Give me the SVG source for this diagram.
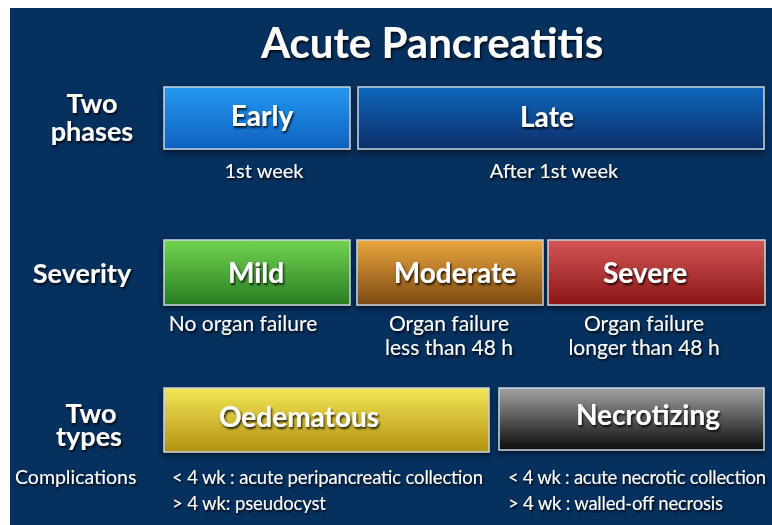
<svg xmlns="http://www.w3.org/2000/svg" width="772" height="525" viewBox="0 0 772 525">
<defs>
<linearGradient id="gEarly" x1="0" y1="0" x2="0" y2="1"><stop offset="0" stop-color="#2499f0"/><stop offset="1" stop-color="#0f60bf"/></linearGradient>
<linearGradient id="gLate" x1="0" y1="0" x2="0" y2="1"><stop offset="0" stop-color="#1166bc"/><stop offset="1" stop-color="#062f6a"/></linearGradient>
<linearGradient id="gMild" x1="0" y1="0" x2="0" y2="1"><stop offset="0" stop-color="#72d450"/><stop offset="1" stop-color="#297c22"/></linearGradient>
<linearGradient id="gModerate" x1="0" y1="0" x2="0" y2="1"><stop offset="0" stop-color="#eba73e"/><stop offset="1" stop-color="#7c4912"/></linearGradient>
<linearGradient id="gSevere" x1="0" y1="0" x2="0" y2="1"><stop offset="0" stop-color="#d45656"/><stop offset="1" stop-color="#8a1616"/></linearGradient>
<linearGradient id="gOed" x1="0" y1="0" x2="0" y2="1"><stop offset="0" stop-color="#f3e656"/><stop offset="1" stop-color="#b29212"/></linearGradient>
<linearGradient id="gNec" x1="0" y1="0" x2="0" y2="1"><stop offset="0" stop-color="#a2a2a2"/><stop offset="1" stop-color="#0c0c0c"/></linearGradient>
<filter id="boxShadow" x="-5%" y="-10%" width="110%" height="130%"><feDropShadow dx="0" dy="3" stdDeviation="2.5" flood-color="#000" flood-opacity="0.5"/></filter>
<filter id="txtShadow" x="-10%" y="-20%" width="120%" height="150%"><feDropShadow dx="1.2" dy="2" stdDeviation="1.3" flood-color="#000" flood-opacity="0.85"/></filter>
</defs>
<style>
.box{stroke:#c9d3dd;stroke-width:1.5;filter:url(#boxShadow)}
.t{font-family:Lato,"Open Sans","Liberation Sans",sans-serif;fill:#fff;filter:url(#txtShadow)}
.h{font-weight:bold;text-anchor:middle}
.title{font-size:42px}
.lbl{font-size:28px}
.side{font-size:27px}
.sub{font-size:20px;text-anchor:middle}
.sub2{font-size:21px;text-anchor:middle}
.comp{font-size:18.5px}
.cl{font-size:19.5px}
</style>
<rect x="10" y="8" width="762" height="517" fill="#06305e"/>
<g id="title"><text class="t h title" x="432" y="58">Acute Pancreatitis</text></g>
<g id="row-phases-label"><text class="t h side"><tspan x="92" y="113">Two</tspan><tspan x="92" y="141">phases</tspan></text></g>
<g id="node-early"><rect class="box" x="164" y="87" width="186" height="62" fill="url(#gEarly)"/><text class="t h lbl" x="262" y="126">Early</text><text class="t sub" x="264" y="178">1st week</text></g>
<g id="node-late"><rect class="box" x="358" y="87" width="406" height="62" fill="url(#gLate)"/><text class="t h lbl" x="547" y="127">Late</text><text class="t sub" x="554" y="178">After 1st week</text></g>
<g id="row-severity-label"><text class="t h side" x="82" y="283">Severity</text></g>
<g id="node-mild"><rect class="box" x="164" y="240" width="186" height="65" fill="url(#gMild)"/><text class="t h lbl" x="256" y="283">Mild</text><text class="t sub2" x="243" y="331">No organ failure</text></g>
<g id="node-moderate"><rect class="box" x="357" y="240" width="186" height="65" fill="url(#gModerate)"/><text class="t h lbl" x="455" y="283">Moderate</text><text class="t sub2"><tspan x="449" y="331">Organ failure</tspan><tspan x="449" y="355">less than 48 h</tspan></text></g>
<g id="node-severe"><rect class="box" x="548" y="240" width="217" height="65" fill="url(#gSevere)"/><text class="t h lbl" x="645" y="283">Severe</text><text class="t sub2"><tspan x="644" y="331">Organ failure</tspan><tspan x="644" y="355">longer than 48 h</tspan></text></g>
<g id="row-types-label"><text class="t h side"><tspan x="91" y="423">Two</tspan><tspan x="89" y="446">types</tspan></text><text class="t cl" x="15" y="484">Complications</text></g>
<g id="node-oedematous"><rect class="box" x="164" y="388" width="325" height="64" fill="url(#gOed)"/><text class="t h lbl" x="299" y="427">Oedematous</text><text class="t comp" x="172" y="484" textLength="311" lengthAdjust="spacing">&lt; 4 wk : acute peripancreatic collection</text><text class="t comp" x="172" y="510" textLength="154" lengthAdjust="spacing">&gt; 4 wk: pseudocyst</text></g>
<g id="node-necrotizing"><rect class="box" x="499" y="388" width="265" height="62" fill="url(#gNec)"/><text class="t h lbl" x="648" y="425">Necrotizing</text><text class="t comp" x="508" y="484" textLength="258" lengthAdjust="spacing">&lt; 4 wk : acute necrotic collection</text><text class="t comp" x="508" y="510" textLength="215" lengthAdjust="spacing">&gt; 4 wk : walled-off necrosis</text></g>
<g id="connectors"/>
</svg>
